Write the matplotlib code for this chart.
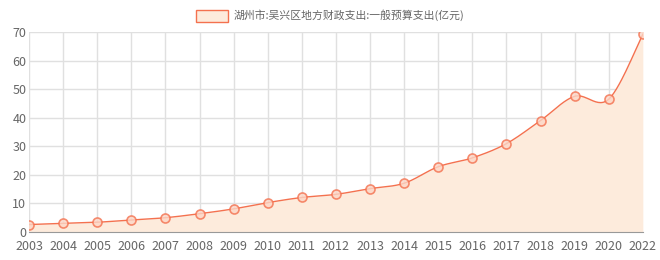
import numpy as np
import matplotlib
matplotlib.use("Agg")
import matplotlib.pyplot as plt
from matplotlib.patches import Patch

plt.rcParams['font.family'] = ['Noto Sans CJK SC', 'DejaVu Sans']

years = ["2003", "2004", "2005", "2006", "2007", "2008", "2009", "2010", "2011", "2012",
         "2013", "2014", "2015", "2016", "2017", "2018", "2019", "2020", "2022"]
spend = [2.5, 2.9, 3.3, 4.1, 4.9, 6.3, 8.0, 10.2, 12.0, 13.1,
         15.1, 17.0, 22.8, 25.9, 30.9, 39.0, 47.5, 46.5, 69.3]
label = "湖州市:吴兴区地方财政支出:一般预算支出(亿元)"

line_c = "#f4714f"
fill_c = "#fdebdc"
text_c = "#666666"

# smooth curve through the points (Catmull-Rom, for drawing only)
x = np.arange(len(years), dtype=float)
y = np.array(spend)
xs, ys = [], []
for i in range(len(x) - 1):
    p0 = np.array([x[max(i - 1, 0)], y[max(i - 1, 0)]])
    p1 = np.array([x[i], y[i]])
    p2 = np.array([x[i + 1], y[i + 1]])
    p3 = np.array([x[min(i + 2, len(x) - 1)], y[min(i + 2, len(x) - 1)]])
    c1 = p1 + (p2 - p0) / 6
    c2 = p2 - (p3 - p1) / 6
    t = np.linspace(0, 1, 30)[:, None]
    pts = (1 - t) ** 3 * p1 + 3 * (1 - t) ** 2 * t * c1 + 3 * (1 - t) * t ** 2 * c2 + t ** 3 * p2
    xs.extend(pts[:, 0])
    ys.extend(pts[:, 1])

fig = plt.figure(figsize=(6.6, 2.6), dpi=100)
ax = fig.add_axes([0.044, 0.109, 0.930, 0.767])

ax.fill_between(xs, ys, 0, color=fill_c, lw=0, zorder=1)
ax.plot(xs, ys, color=line_c, lw=1, zorder=3)
ax.plot(x, y, 'o', ms=6.5, mfc="#fcd6c6", mec=line_c, mew=1.2, alpha=0.8, zorder=4, ls='none')

ax.set_xlim(0, len(years) - 1)
ax.set_ylim(0, 70)
ax.set_xticks(x)
ax.set_xticklabels(years)
ax.set_yticks(range(0, 71, 10))
ax.grid(True, color="#e0e0e0", lw=1, zorder=0)
ax.set_axisbelow(True)
for s in ['top', 'right', 'left']:
    ax.spines[s].set_visible(False)
ax.spines['bottom'].set_color("#999999")
ax.tick_params(axis='both', length=0, colors=text_c, labelsize=9)
ax.tick_params(axis='x', pad=6)
ax.tick_params(axis='y', pad=2)

handle = Patch(facecolor=fill_c, edgecolor=line_c, lw=1)
fig.legend([handle], [label], loc='upper center', bbox_to_anchor=(0.5, 1.0),
           frameon=False, fontsize=7.8, labelcolor=text_c, handlelength=3.0,
           handleheight=1.3, handletextpad=0.5)

fig.savefig("out.png", dpi=100)
